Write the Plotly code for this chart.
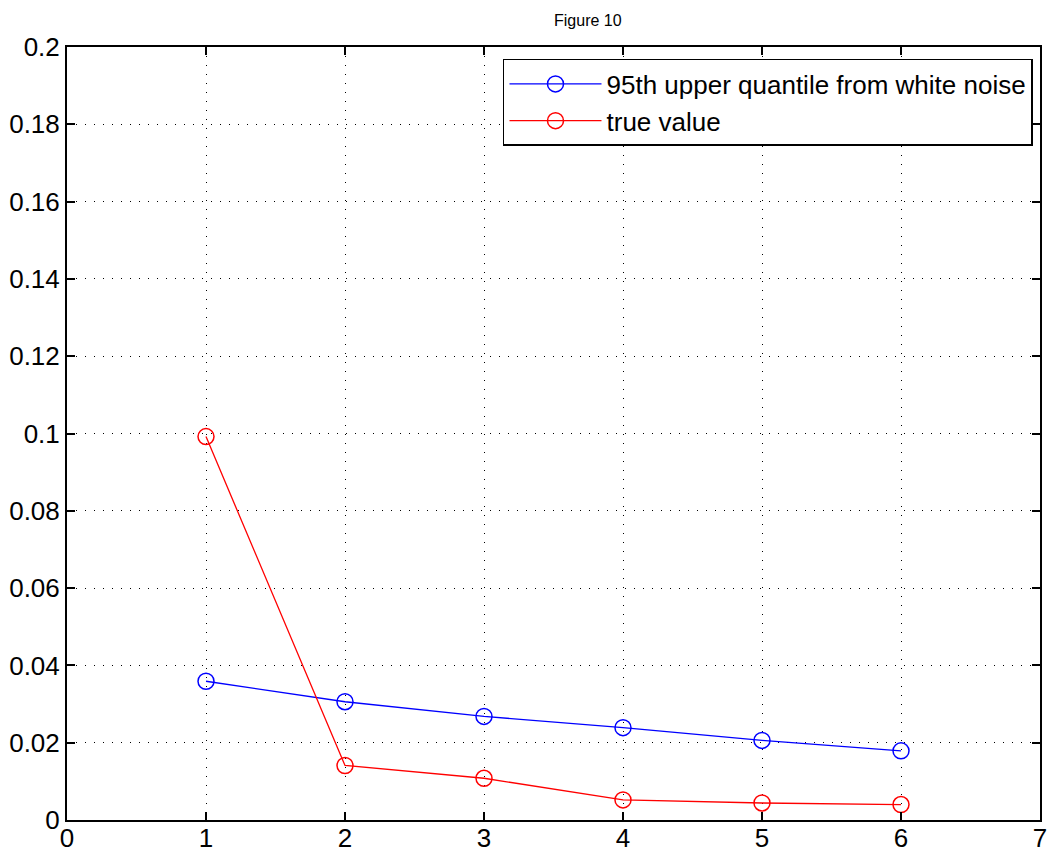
import plotly.graph_objects as go

# lag index on the x axis
lags = [1, 2, 3, 4, 5, 6]
# 95th upper quantile from white noise
quantile_vals = [0.0359, 0.0306, 0.0268, 0.0239, 0.0206, 0.0179]
# true value
true_vals = [0.0992, 0.0141, 0.0108, 0.0052, 0.0044, 0.0040]

x_ticks = [0, 1, 2, 3, 4, 5, 6, 7]
y_ticks = [0, 0.02, 0.04, 0.06, 0.08, 0.1, 0.12, 0.14, 0.16, 0.18, 0.2]
y_labels = ["0", "0.02", "0.04", "0.06", "0.08", "0.1", "0.12", "0.14", "0.16", "0.18", "0.2"]

font = "Liberation Sans, Arial, sans-serif"

fig = go.Figure()
fig.add_trace(go.Scatter(x=lags, y=quantile_vals, mode="lines+markers",
                         name="95th upper quantile from white noise",
                         line={"color": "#0000ff", "width": 1.3},
                         marker={"symbol": "circle-open", "size": 16, "color": "#0000ff",
                                 "line": {"width": 1.5}}))
fig.add_trace(go.Scatter(x=lags, y=true_vals, mode="lines+markers",
                         name="true value",
                         line={"color": "#ff0000", "width": 1.3},
                         marker={"symbol": "circle-open", "size": 16, "color": "#ff0000",
                                 "line": {"width": 1.5}}))

axis_style = dict(showline=True, linecolor="black", linewidth=2, mirror="ticks",
                  ticks="inside", ticklen=8, tickwidth=1.5, tickcolor="black",
                  showgrid=True, gridcolor="black", gridwidth=1, griddash="1px,8px",
                  zeroline=False, automargin=False, ticklabeloverflow="allow",
                  tickfont={"family": font, "size": 26, "color": "black"})

fig.update_xaxes(range=[0, 7], tickvals=x_ticks, ticklabelstandoff=-6, **axis_style)
fig.update_yaxes(range=[0, 0.2], tickvals=y_ticks, ticktext=y_labels, **axis_style)

# the page adds an 8px body margin, so the figure is shrunk by that much
fig.update_layout(
    width=1048, height=843,
    margin={"l": 59, "r": 16, "t": 39, "b": 31},
    paper_bgcolor="white", plot_bgcolor="white",
    font={"family": font, "color": "black"},
    showlegend=True,
    legend={"x": 0.9928, "y": 0.9845, "xanchor": "right", "yanchor": "top",
            "bgcolor": "white", "bordercolor": "black", "borderwidth": 1.5,
            "font": {"family": font, "size": 26}, "itemwidth": 92,
            "tracegroupgap": 0},
    annotations=[{"text": "Figure 10", "xref": "paper", "yref": "paper",
                  "x": 0.535, "y": 1.0, "yshift": 27, "xanchor": "center", "yanchor": "middle",
                  "showarrow": False, "font": {"family": font, "size": 16}}],
)

fig.write_html("out.html")
